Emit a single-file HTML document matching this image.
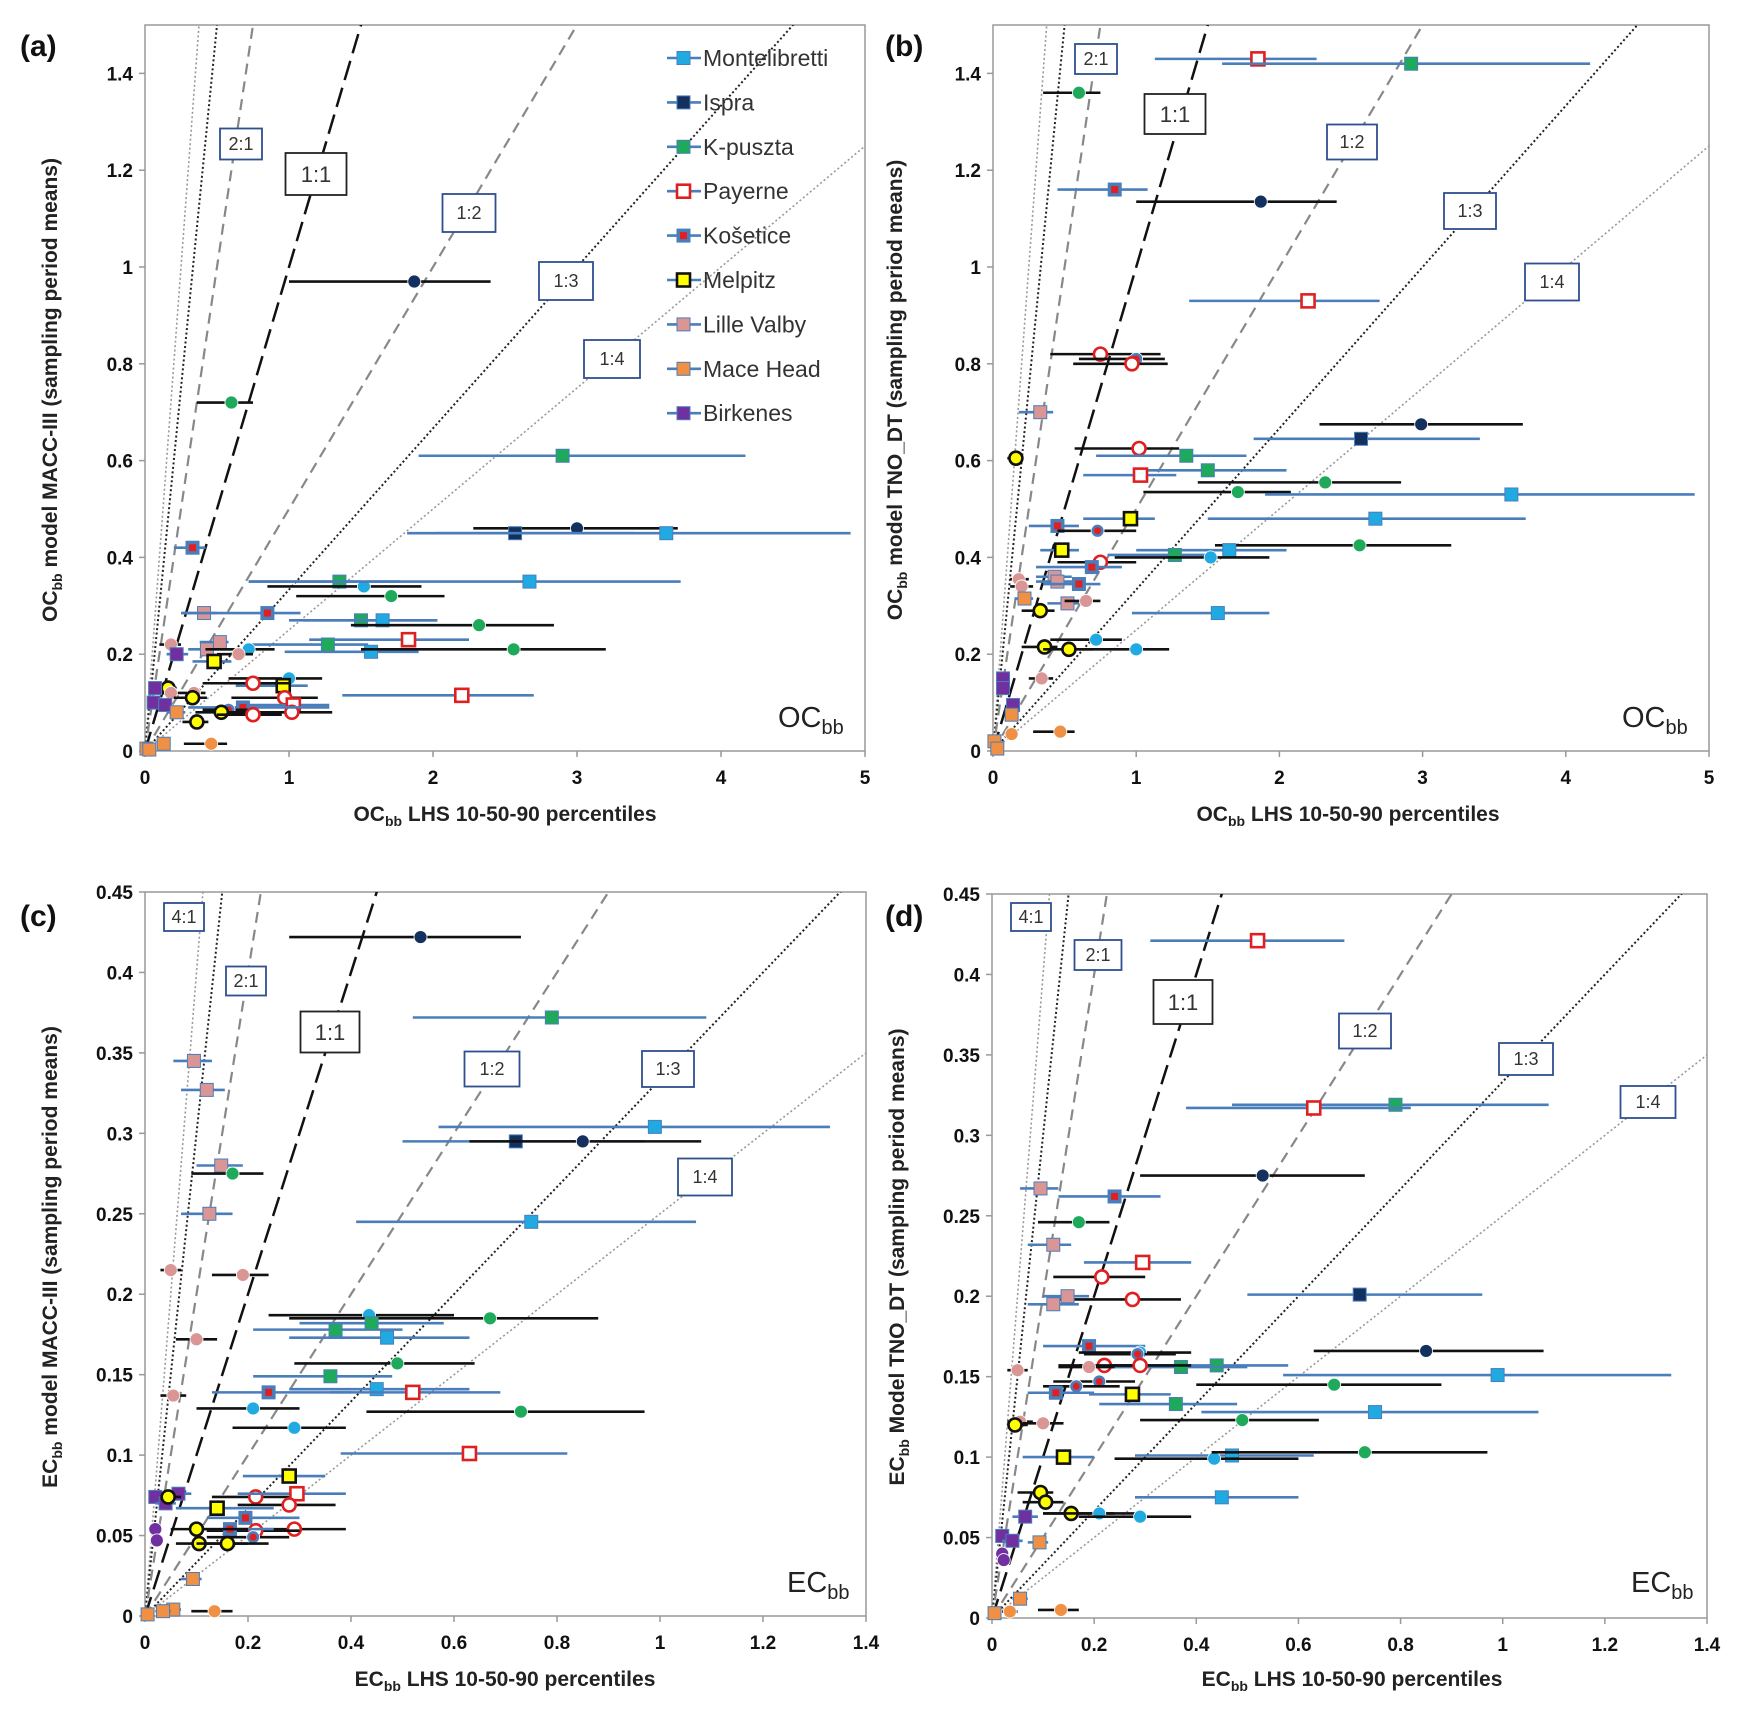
<!DOCTYPE html>
<html><head><meta charset="utf-8"><style>
html,body{margin:0;padding:0;background:#fff;}
svg{display:block;font-family:"Liberation Sans",sans-serif;}
</style></head><body>
<svg id="chart" width="1752" height="1725" viewBox="0 0 1752 1725" xmlns="http://www.w3.org/2000/svg"></svg>
<script>
// ---------- Panel (a) OC MACC-III ----------
const aSite=['isp','kpu','kpu','isp','isp','mon','kos','kpu','mon','mon','kpu','lil','kos','kpu','mon','kpu','pay','kpu','lil','lil','lil','mon','lil','mon','kpu','bir','mel','pay','mon','mel','pay','mel','lil','bir','pay','lil','mel','bir','bir','pay','pay','kos','kos','mel','pay','mac','mel','mac','mac','mac','mac'];
const aShape=['c','c','s','c','s','s','s','s','c','s','c','s','s','s','s','c','s','s','c','s','s','c','c','s','c','s','s','s','c','s','c','c','c','s','c','c','c','s','s','s','c','s','c','c','c','s','c','c','s','s','s'];
const aX=[1.87,0.6,2.9,3.0,2.57,3.62,0.33,1.35,1.52,2.67,1.71,0.41,0.85,1.5,1.65,2.32,1.83,1.27,0.18,0.52,0.43,0.72,0.65,1.57,2.56,0.22,0.48,2.2,1.0,0.96,0.75,0.16,0.18,0.07,0.97,0.34,0.33,0.06,0.14,1.03,1.02,0.68,0.58,0.53,0.75,0.22,0.36,0.46,0.13,0.01,0.03];
const aLo=[1.0,0.36,1.9,2.28,2.02,1.82,0.2,0.72,0.85,0.72,1.05,0.25,0.26,1.0,1.1,1.43,1.14,0.72,0.1,0.38,0.3,0.42,0.5,0.97,1.5,0.15,0.33,1.37,0.58,0.63,0.4,0.1,0.12,0.04,0.6,0.25,0.2,0.03,0.1,0.7,0.6,0.3,0.4,0.35,0.5,0.15,0.26,0.27,0.1,0,0];
const aHi=[2.4,0.75,4.17,3.7,3.4,4.9,0.42,1.77,1.92,3.72,2.08,0.5,1.08,2.03,2.03,2.84,2.25,1.55,0.25,0.58,0.6,0.9,0.75,1.9,3.2,0.3,0.6,2.7,1.23,1.13,1.0,0.22,0.25,0.1,1.2,0.42,0.43,0.09,0.18,1.28,1.3,1.28,0.75,0.7,0.95,0.28,0.44,0.57,0.16,0.02,0.05];
const aY=[0.97,0.72,0.61,0.46,0.45,0.45,0.42,0.35,0.34,0.35,0.32,0.285,0.285,0.27,0.27,0.26,0.23,0.22,0.22,0.225,0.21,0.21,0.2,0.205,0.21,0.2,0.185,0.115,0.15,0.135,0.14,0.13,0.12,0.13,0.11,0.12,0.11,0.1,0.095,0.095,0.08,0.09,0.085,0.08,0.075,0.08,0.06,0.015,0.015,0.005,0.003];

// ---------- Panel (b) OC TNO_DT ----------
const bSite=['pay','kpu','kpu','kos','isp','pay','pay','kos','pay','lil','isp','isp','pay','kpu','mel','kpu','pay','kpu','kpu','mon','mon','mel','kos','kos','kpu','mel','mon','kpu','mon','pay','kos','lil','lil','lil','lil','kos','mac','lil','lil','mel','mon','mon','mon','mel','mel','lil','bir','bir','bir','mac','mac','mac','mac','mac'];
const bShape=['s','s','c','s','c','s','c','c','c','s','c','s','c','s','c','s','s','c','c','s','s','s','s','c','c','s','s','s','c','c','s','s','s','c','c','s','s','s','c','c','s','c','c','c','c','c','s','s','s','s','c','c','s','s'];
const bX=[1.85,2.92,0.6,0.85,1.87,2.2,0.75,1.0,0.97,0.33,2.99,2.57,1.02,1.35,0.16,1.5,1.03,2.32,1.71,3.62,2.67,0.96,0.45,0.73,2.56,0.48,1.65,1.27,1.52,0.75,0.69,0.43,0.45,0.18,0.2,0.6,0.22,0.52,0.65,0.33,1.57,0.72,1.0,0.36,0.53,0.34,0.07,0.07,0.14,0.13,0.13,0.47,0.01,0.03];
const bLo=[1.13,1.6,0.35,0.45,1.0,1.37,0.4,0.6,0.56,0.18,2.28,1.82,0.57,0.72,0.1,1.0,0.63,1.43,1.05,1.9,1.5,0.63,0.25,0.45,1.55,0.33,1.0,0.8,0.85,0.45,0.3,0.3,0.3,0.12,0.12,0.35,0.15,0.38,0.5,0.2,0.97,0.4,0.6,0.2,0.35,0.25,0.04,0.04,0.1,0.1,0.1,0.28,0,0];
const bHi=[2.26,4.17,0.75,1.08,2.4,2.7,1.17,1.2,1.22,0.42,3.7,3.4,1.3,1.77,0.2,2.05,1.28,2.85,2.08,4.9,3.72,1.13,0.6,1.0,3.2,0.6,2.05,1.55,1.93,1.0,0.9,0.55,0.58,0.25,0.28,0.75,0.28,0.6,0.75,0.43,1.93,0.9,1.23,0.45,0.7,0.42,0.1,0.1,0.18,0.16,0.16,0.57,0.02,0.05];
const bY=[1.43,1.42,1.36,1.16,1.135,0.93,0.82,0.81,0.8,0.7,0.675,0.645,0.625,0.61,0.605,0.58,0.57,0.555,0.535,0.53,0.48,0.48,0.465,0.455,0.425,0.415,0.415,0.405,0.4,0.39,0.38,0.36,0.35,0.355,0.34,0.345,0.315,0.305,0.31,0.29,0.285,0.23,0.21,0.215,0.21,0.15,0.15,0.13,0.095,0.075,0.035,0.04,0.02,0.005];

// ---------- Panel (c) EC MACC-III ----------
const cSite=['isp','kpu','lil','lil','mon','isp','isp','lil','kpu','lil','mon','lil','lil','mon','kpu','kpu','kpu','mon','lil','kpu','kpu','mon','kos','pay','lil','kpu','mon','mon','pay','mel','bir','bir','bir','mel','pay','pay','pay','mel','kos','pay','pay','kos','kos','mel','mel','mel','bir','bir','mac','mac','mac','mac','mac'];
const cShape=['c','s','s','s','s','s','c','s','c','s','s','c','c','c','c','s','s','s','c','c','s','s','s','s','c','c','c','c','s','s','s','s','s','c','c','s','c','s','s','c','c','s','c','c','c','c','c','c','s','s','s','c','s'];
const cX=[0.535,0.79,0.095,0.12,0.99,0.72,0.85,0.148,0.17,0.125,0.75,0.05,0.19,0.435,0.67,0.37,0.44,0.47,0.1,0.49,0.36,0.45,0.24,0.52,0.055,0.73,0.21,0.29,0.63,0.28,0.02,0.065,0.04,0.045,0.215,0.295,0.28,0.14,0.195,0.29,0.215,0.165,0.21,0.1,0.105,0.16,0.02,0.023,0.093,0.055,0.035,0.135,0.005];
const cLo=[0.28,0.52,0.055,0.07,0.57,0.5,0.63,0.1,0.09,0.07,0.41,0.03,0.13,0.24,0.28,0.21,0.3,0.28,0.06,0.29,0.21,0.28,0.13,0.36,0.03,0.43,0.1,0.17,0.38,0.19,0.01,0.04,0.02,0.03,0.13,0.18,0.18,0.06,0.12,0.17,0.12,0.1,0.12,0.05,0.06,0.1,0.01,0.01,0.07,0.04,0.02,0.09,0];
const cHi=[0.73,1.09,0.13,0.155,1.33,0.97,1.08,0.19,0.23,0.17,1.07,0.07,0.24,0.6,0.88,0.5,0.58,0.63,0.14,0.64,0.48,0.63,0.4,0.69,0.08,0.97,0.3,0.39,0.82,0.35,0.03,0.09,0.06,0.07,0.3,0.39,0.37,0.25,0.3,0.39,0.3,0.25,0.28,0.2,0.2,0.24,0.03,0.03,0.11,0.07,0.05,0.17,0.01];
const cY=[0.422,0.372,0.345,0.327,0.304,0.295,0.295,0.28,0.275,0.25,0.245,0.215,0.212,0.187,0.185,0.178,0.182,0.173,0.172,0.157,0.149,0.141,0.139,0.139,0.137,0.127,0.129,0.117,0.101,0.087,0.074,0.076,0.07,0.074,0.074,0.076,0.069,0.067,0.061,0.054,0.053,0.054,0.049,0.054,0.045,0.045,0.054,0.047,0.023,0.004,0.003,0.003,0.001];

// ---------- Panel (d) EC TNO_DT ----------
const dSite=['pay','kpu','pay','isp','lil','kos','kpu','lil','pay','pay','isp','pay','lil','lil','kos','isp','mon','kos','kpu','kpu','pay','pay','lil','lil','mon','kos','kos','kpu','kos','mel','kpu','mon','kpu','lil','lil','mel','mon','mon','kpu','mel','mel','mel','mel','mon','mon','mon','bir','bir','bir','bir','bir','mac','mac','mac','mac','mac'];
const dShape=['s','s','s','c','s','s','c','s','s','c','s','c','s','s','s','c','c','c','s','s','c','c','c','c','s','c','c','c','s','s','s','s','c','c','c','c','s','c','c','s','c','c','c','s','c','c','s','s','s','c','c','s','s','c','c','s'];
const dX=[0.52,0.79,0.63,0.53,0.095,0.24,0.17,0.12,0.295,0.215,0.72,0.275,0.148,0.12,0.19,0.85,0.29,0.285,0.44,0.37,0.22,0.29,0.19,0.05,0.99,0.21,0.165,0.67,0.125,0.275,0.36,0.75,0.49,0.055,0.1,0.045,0.47,0.435,0.73,0.14,0.095,0.105,0.155,0.45,0.21,0.29,0.065,0.02,0.04,0.02,0.023,0.093,0.055,0.035,0.135,0.005];
const dLo=[0.31,0.47,0.38,0.29,0.055,0.13,0.09,0.07,0.18,0.12,0.5,0.12,0.1,0.07,0.1,0.63,0.17,0.18,0.3,0.21,0.13,0.17,0.13,0.03,0.57,0.12,0.1,0.4,0.07,0.19,0.21,0.41,0.29,0.03,0.06,0.03,0.28,0.24,0.43,0.06,0.05,0.06,0.1,0.28,0.1,0.17,0.04,0.01,0.02,0.01,0.01,0.07,0.04,0.02,0.09,0];
const dHi=[0.69,1.09,0.82,0.73,0.13,0.33,0.23,0.155,0.39,0.3,0.96,0.37,0.19,0.17,0.3,1.08,0.39,0.36,0.58,0.5,0.3,0.39,0.24,0.07,1.33,0.28,0.25,0.88,0.2,0.35,0.48,1.07,0.64,0.08,0.14,0.07,0.63,0.6,0.97,0.2,0.12,0.14,0.24,0.6,0.3,0.39,0.09,0.03,0.06,0.03,0.03,0.11,0.07,0.05,0.17,0.01];
const dY=[0.421,0.319,0.317,0.275,0.267,0.262,0.246,0.232,0.221,0.212,0.201,0.198,0.2,0.195,0.169,0.166,0.165,0.164,0.157,0.156,0.157,0.157,0.156,0.154,0.151,0.147,0.144,0.145,0.14,0.139,0.133,0.128,0.123,0.122,0.121,0.12,0.101,0.099,0.103,0.1,0.078,0.072,0.065,0.075,0.065,0.063,0.063,0.051,0.048,0.04,0.036,0.047,0.012,0.004,0.005,0.003];

const legendSites=['mon','isp','kpu','pay','kos','mel','lil','mac','bir'];
const legendNames=['Montelibretti','Ispra','K-puszta','Payerne','Košetice','Melpitz','Lille Valby','Mace Head','Birkenes'];
const ocTicksY=[0,0.2,0.4,0.6,0.8,1,1.2,1.4];
const ocTicksX=[0,1,2,3,4,5];
const ecTicksY=[0,0.05,0.1,0.15,0.2,0.25,0.3,0.35,0.4,0.45];
const ecTicksX=[0,0.2,0.4,0.6,0.8,1,1.2,1.4];
const ratios=[4,3,2,1,0.5,1/3,0.25];

const NS='http://www.w3.org/2000/svg';
const svg=document.getElementById('chart');
function mk(tag,attrs,parent){const e=document.createElementNS(NS,tag);for(const k in attrs)e.setAttribute(k,attrs[k]);(parent||svg).appendChild(e);return e;}
const COL={mon:'#21a9e1',isp:'#13305f',kpu:'#1eaa5a',pay:'#fff',kos:'#4a7ebb',mel:'#ffff00',lil:'#d99694',mac:'#f09044',bir:'#7030a0'};

const panels=[
 {id:'a',l:145,t:25,w:720,h:726,xmax:5,ymax:1.5,site:aSite,shape:aShape,x:aX,lo:aLo,hi:aHi,y:aY,ty:ocTicksY,tx:ocTicksX,sp:'OC',model:'model MACC-III',ylab:'OC',tag:[20,56],yt:[57,390],xt:[505,821],big:[778,727],
  boxes:[['2:1',241,144,42,31,0],['1:1',316,174,61,42,1],['1:2',469,213,53,38,0],['1:3',566,281,54,38,0],['1:4',612,359,56,38,0]]},
 {id:'b',l:993,t:25,w:716,h:726,xmax:5,ymax:1.5,site:bSite,shape:bShape,x:bX,lo:bLo,hi:bHi,y:bY,ty:ocTicksY,tx:ocTicksX,sp:'OC',model:'model TNO_DT',ylab:'OC',tag:[885,56],yt:[902,390],xt:[1348,821],big:[1622,727],
  boxes:[['2:1',1096,59,42,30,0],['1:1',1175,114,61,40,1],['1:2',1352,142,50,35,0],['1:3',1470,211,52,36,0],['1:4',1552,282,54,37,0]]},
 {id:'c',l:145,t:892,w:721,h:724,xmax:1.4,ymax:0.45,site:cSite,shape:cShape,x:cX,lo:cLo,hi:cHi,y:cY,ty:ecTicksY,tx:ecTicksX,sp:'EC',model:'model MACC-III',ylab:'EC',tag:[20,926],yt:[57,1257],xt:[505,1686],big:[787,1592],
  boxes:[['4:1',184,917,40,28,0],['2:1',246,981,40,29,0],['1:1',330,1032,59,41,1],['1:2',492,1069,55,35,0],['1:3',668,1069,52,36,0],['1:4',705,1177,54,37,0]]},
 {id:'d',l:992,t:894,w:715,h:724,xmax:1.4,ymax:0.45,site:dSite,shape:dShape,x:dX,lo:dLo,hi:dHi,y:dY,ty:ecTicksY,tx:ecTicksX,sp:'EC',model:'Model TNO_DT',ylab:'EC',tag:[885,926],yt:[904,1257],xt:[1352,1686],big:[1631,1592],
  boxes:[['4:1',1031,917,40,28,0],['2:1',1098,955,47,30,0],['1:1',1183,1002,59,44,1],['1:2',1365,1031,52,35,0],['1:3',1526,1059,54,32,0],['1:4',1648,1102,55,32,0]]}
];

function fmt(v){return (Math.round(v*100)/100).toString();}

panels.forEach(p=>{
 const g=mk('g',{});
 
 
 const sx=v=>p.l+v/p.xmax*p.w, sy=v=>p.t+p.h-v/p.ymax*p.h;
 // frame
 const fr=mk('rect',{x:p.l,y:p.t,width:p.w,height:p.h,fill:'none',stroke:'#999','stroke-width':1.5},g);
 
 
 // ticks
 p.ty.forEach(v=>{
  mk('line',{x1:p.l-6,x2:p.l,y1:sy(v),y2:sy(v),stroke:'#999','stroke-width':1.5},g);
  const t=mk('text',{x:p.l-12,y:sy(v)+7,'text-anchor':'end','font-size':19,'font-weight':'bold',fill:'#111'},g);
  t.textContent=fmt(v);
  
  
 });
 p.tx.forEach(v=>{
  mk('line',{x1:sx(v),x2:sx(v),y1:p.t+p.h,y2:p.t+p.h+6,stroke:'#999','stroke-width':1.5},g);
  const t=mk('text',{x:sx(v),y:p.t+p.h+33,'text-anchor':'middle','font-size':19,'font-weight':'bold',fill:'#111'},g);
  t.textContent=fmt(v);
  
  
 });
 // clip
 const cp=mk('clipPath',{id:'clip'+p.id},g);
 mk('rect',{x:p.l,y:p.t,width:p.w,height:p.h},cp);
 const lg=mk('g',{'clip-path':'url(#clip'+p.id+')'},g);
 ratios.forEach(r=>{
  let st;
  if(r===1) st={stroke:'#111','stroke-width':2.5,'stroke-dasharray':'20 8'};
  else if(r===2||r===0.5) st={stroke:'#888','stroke-width':2.2,'stroke-dasharray':'11 7'};
  else if(r===3||r===1/3) st={stroke:'#222','stroke-width':2,'stroke-dasharray':'2 2.5'};
  else st={stroke:'#999','stroke-width':1.6,'stroke-dasharray':'2 2.5'};
  const xe=p.xmax*1.2, ye=r*xe;
  const ln=mk('line',Object.assign({x1:sx(0),y1:sy(0),x2:sx(xe),y2:sy(ye),fill:'none'},st),lg);
  
  
 });
 // ratio labels
 p.boxes.forEach(b=>{
  const bg=mk('g',{},g);
  
  
  mk('rect',{x:b[1]-b[3]/2,y:b[2]-b[4]/2,width:b[3],height:b[4],fill:'#fff',stroke:b[5]?'#222':'#2f4f8f','stroke-width':1.8},bg);
  const t=mk('text',{x:b[1],y:b[2]+(b[5]?8:6),'text-anchor':'middle','font-size':b[5]?22:18,fill:'#333'},bg);
  t.textContent=b[0];
 });
 // data
 const dg=mk('g',{},g);
 for(let i=0;i<p.x.length;i++){
  const s=p.site[i], sq=p.shape[i]==='s';
  const cy=sy(p.y[i]), cx=sx(p.x[i]);
  const bar=mk('line',{x1:sx(p.lo[i]),x2:sx(p.hi[i]),y1:cy,y2:cy,stroke:sq?'#4a7ebb':'#111','stroke-width':2.6},dg);
  
  
  let m;
  if(sq){
   const stroke=s==='pay'?'#e02020':(s==='mel'?'#111':'#4a7ebb');
   const sw=(s==='pay'||s==='mel')?2.6:1;
   m=mk('rect',{x:cx-6.5,y:cy-6.5,width:13,height:13,fill:COL[s],stroke:stroke,'stroke-width':sw},dg);
   if(s==='kos') mk('rect',{x:cx-3.5,y:cy-3.5,width:7,height:7,fill:'#e02020'},dg);
  } else {
   const stroke=s==='pay'?'#e02020':(s==='mel'?'#111':'#fff');
   const sw=(s==='pay'||s==='mel')?2.6:0.8;
   m=mk('circle',{cx:cx,cy:cy,r:6.5,fill:COL[s],stroke:stroke,'stroke-width':sw},dg);
   if(s==='kos') mk('circle',{cx:cx,cy:cy,r:3.5,fill:'#e02020'},dg);
  }
  
  
 }
 // labels
 const tag=mk('text',{x:p.tag[0],y:p.tag[1],'font-size':30,'font-weight':'bold',fill:'#111'},g);
 tag.textContent='('+p.id+')';
 
 
 const yt=mk('text',{x:p.yt[0],y:p.yt[1],'text-anchor':'middle','font-size':21,'font-weight':'bold',fill:'#222',transform:'rotate(-90 '+p.yt[0]+' '+p.yt[1]+')'},g);
 yt.innerHTML=p.ylab+'<tspan font-size="14" dy="5">bb</tspan><tspan dy="-5"> '+p.model+' (sampling period means)</tspan>';
 
 
 const xt=mk('text',{x:p.xt[0],y:p.xt[1],'text-anchor':'middle','font-size':21,'font-weight':'bold',fill:'#222'},g);
 xt.innerHTML=p.sp+'<tspan font-size="14" dy="5">bb</tspan><tspan dy="-5"> LHS 10-50-90 percentiles</tspan>';
 
 
 const bl=mk('text',{x:p.big[0],y:p.big[1],'font-size':29,fill:'#222'},g);
 bl.innerHTML=p.sp+'<tspan font-size="20" dy="7">bb</tspan>';
 
 
});

// legend (panel a)
const leg=mk('g',{});


legendSites.forEach((s,i)=>{
 const y=58+i*44.4;
 const e=mk('g',{},leg);
 
 
 mk('line',{x1:667,x2:701,y1:y,y2:y,stroke:'#4a7ebb','stroke-width':2.6},e);
 const stroke=s==='pay'?'#e02020':(s==='mel'?'#111':'#4a7ebb');
 const sw=(s==='pay'||s==='mel')?2.6:1;
 mk('rect',{x:677,y:y-6.5,width:13,height:13,fill:COL[s],stroke:stroke,'stroke-width':sw},e);
 if(s==='kos') mk('rect',{x:680,y:y-3.5,width:7,height:7,fill:'#e02020'},e);
 const t=mk('text',{x:703,y:y+8,'font-size':23,fill:'#333'},e);
 t.textContent=legendNames[i];
});
</script>
</body></html>
